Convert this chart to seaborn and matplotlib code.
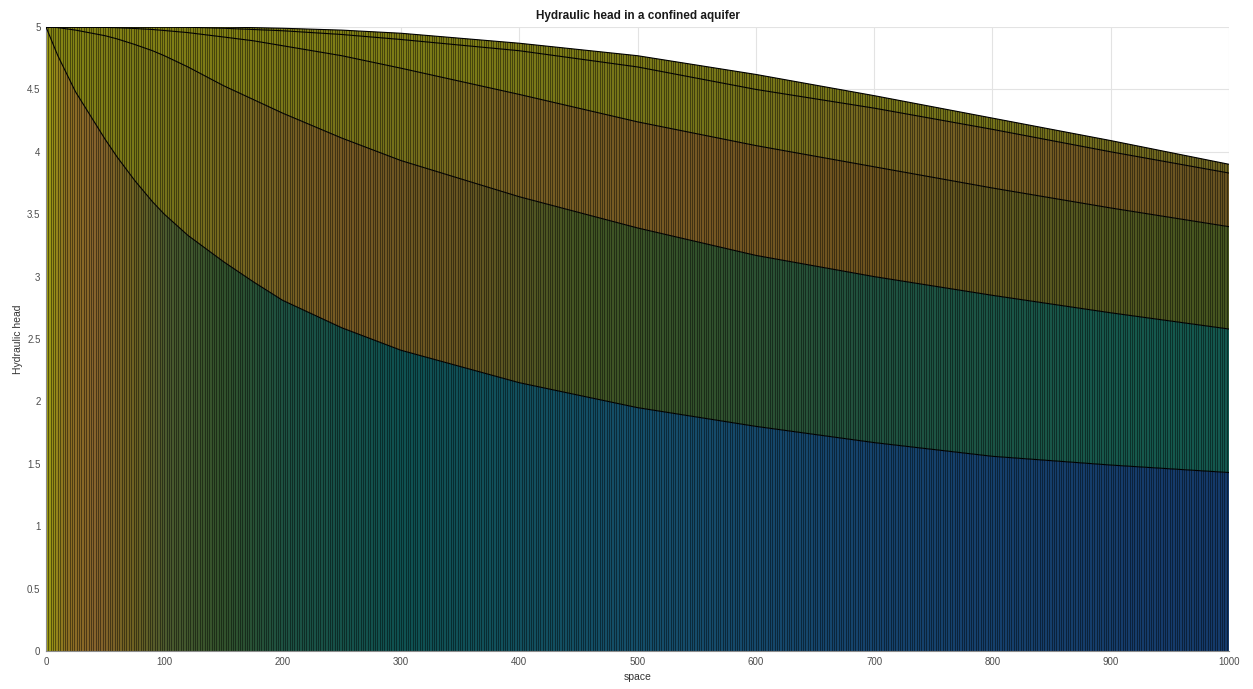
import numpy as np
import pandas as pd
import seaborn as sns
import matplotlib.pyplot as plt
from matplotlib.colors import LinearSegmentedColormap, to_rgb

# distance along the aquifer and the head for five successive times
space = [0, 10, 25, 50, 60, 75, 90, 100, 120, 150, 175, 200, 250, 300, 400, 500, 600, 700, 800, 900, 1000]
head_t1 = [5.0, 4.77, 4.48, 4.10, 3.96, 3.77, 3.60, 3.50, 3.33, 3.12, 2.96, 2.81, 2.59, 2.41, 2.15, 1.95, 1.80, 1.67, 1.56, 1.49, 1.43]
head_t2 = [5.0, 4.995, 4.975, 4.93, 4.905, 4.86, 4.81, 4.77, 4.68, 4.53, 4.42, 4.31, 4.11, 3.93, 3.64, 3.39, 3.17, 3.00, 2.85, 2.71, 2.58]
head_t3 = [5.0, 5.0, 5.0, 4.997, 4.994, 4.988, 4.98, 4.972, 4.955, 4.92, 4.89, 4.85, 4.77, 4.67, 4.46, 4.24, 4.05, 3.88, 3.71, 3.55, 3.40]
head_t4 = [5.0, 5.0, 5.0, 5.0, 5.0, 5.0, 5.0, 5.0, 4.998, 4.99, 4.98, 4.97, 4.94, 4.90, 4.81, 4.68, 4.50, 4.35, 4.18, 4.00, 3.83]
head_t5 = [5.0, 5.0, 5.0, 5.0, 5.0, 5.0, 5.0, 5.0, 5.0, 5.0, 4.995, 4.99, 4.975, 4.95, 4.87, 4.77, 4.62, 4.45, 4.27, 4.09, 3.90]

x_ticks = [0, 100, 200, 300, 400, 500, 600, 700, 800, 900, 1000]
y_ticks = [0, 0.5, 1, 1.5, 2, 2.5, 3, 3.5, 4, 4.5, 5]
y_tick_labels = ["0", "0.5", "1", "1.5", "2", "2.5", "3", "3.5", "4", "4.5", "5"]

heads = [head_t1, head_t2, head_t3, head_t4, head_t5]

# colour of each band along x (style only)
band_colors = [
    [(0, "#8c8a12"), (15, "#80661f"), (40, "#7a5a28"), (70, "#66591f"), (100, "#44522a"),
     (150, "#2d4a28"), (200, "#1b4a3c"), (300, "#0e4a4a"), (500, "#134760"), (700, "#143d63"),
     (1000, "#133561")],
    [(0, "#7a7a12"), (100, "#6b6818"), (180, "#6a5a1f"), (250, "#6b5120"), (350, "#5e4e1e"),
     (450, "#3e4e20"), (550, "#2e4a28"), (700, "#1d4a3a"), (900, "#155045"), (1000, "#125048")],
    [(0, "#7a7a12"), (300, "#6a6518"), (400, "#6a5520"), (550, "#6b5020"), (700, "#634c1c"),
     (850, "#50501d"), (1000, "#3f4e1e")],
    [(0, "#7a7a12"), (600, "#6a6818"), (750, "#6a5820"), (900, "#664f1f"), (1000, "#5e4c1e")],
    [(0, "#7a7a12"), (800, "#6a6818"), (1000, "#635a1e")],
]

sns.set_style("whitegrid")
plt.rcParams["font.family"] = ["Liberation Sans", "DejaVu Sans"]

fig = plt.figure(figsize=(12.53, 6.89), dpi=100)
ax = fig.add_axes([46 / 1253, 38 / 689, 1183 / 1253, 624 / 689])

lower = [0.0] * len(space)
grad = np.linspace(0, 1, 1200)[None, :]
for k, upper in enumerate(heads):
    poly = ax.fill_between(space, lower, upper, color="none", lw=0)
    stops = [(x / 1000, tuple(min(1, c * 1.1) for c in to_rgb(col))) for x, col in band_colors[k]]
    cmap = LinearSegmentedColormap.from_list(f"band{k}", stops)
    img = ax.imshow(grad, cmap=cmap, extent=[0, 1000, 0, 5], aspect="auto",
                    origin="lower", interpolation="bilinear", zorder=1)
    img.set_clip_path(poly.get_paths()[0], transform=ax.transData)
    lower = upper

# bar edges
env = ax.fill_between(space, 0, head_t5, color="none", lw=0)
bars = ax.vlines(np.arange(0, 1001, 2), 0, 5, colors="black", lw=0.7, alpha=0.45, zorder=2)
bars.set_clip_path(env.get_paths()[0], transform=ax.transData)

df = pd.DataFrame({"space": space * 5,
                   "head": sum(heads, []),
                   "time": np.repeat(range(5), len(space))})
sns.lineplot(data=df, x="space", y="head", units="time", estimator=None,
             color="black", lw=0.8, ax=ax, zorder=3)

ax.set_xlim(0, 1000)
ax.set_ylim(0, 5)
ax.set_xticks(x_ticks)
ax.set_yticks(y_ticks)
ax.set_yticklabels(y_tick_labels)
ax.set_axisbelow(True)
ax.grid(True, color="#e3e3e3", lw=0.8)
ax.tick_params(labelsize=7, colors="#4d4d4d", length=0, pad=4)
for s in ["top", "right"]:
    ax.spines[s].set_visible(False)
for s in ["left", "bottom"]:
    ax.spines[s].set_color("#8c8c8c")
    ax.spines[s].set_linewidth(0.8)

ax.set_xlabel("space", fontsize=7.5, color="#333333", labelpad=4)
ax.set_ylabel("Hydraulic head", fontsize=7.5, color="#333333", labelpad=3)
ax.set_title("Hydraulic head in a confined aquifer", fontsize=8.5, fontweight="bold",
             color="#1a1a1a", pad=6)

fig.savefig("out.png", dpi=100)
